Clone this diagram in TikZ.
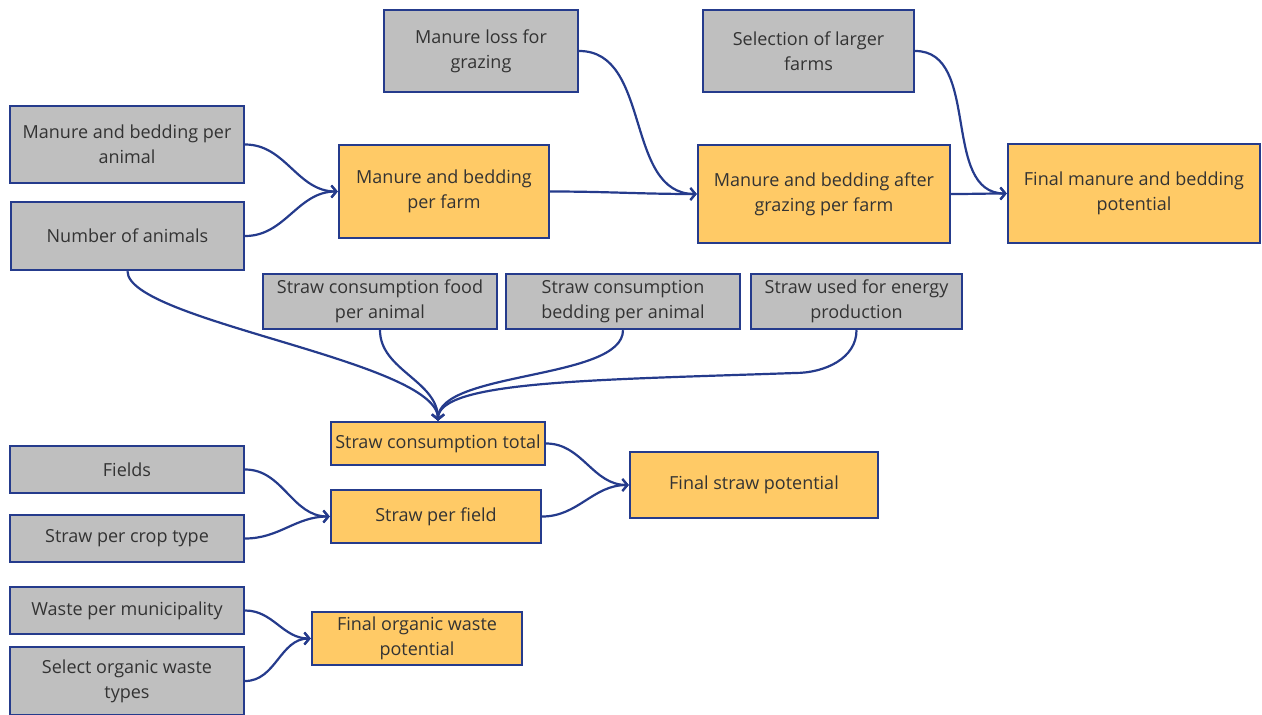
\documentclass[tikz,border=0pt]{standalone}
\usepackage{fontspec}
\setmainfont{Open Sans}
\usetikzlibrary{arrows.meta,calc}
\definecolor{gbox}{HTML}{BFBFBF}
\definecolor{obox}{HTML}{FFCA66}
\definecolor{navy}{HTML}{253B8C}
\definecolor{txt}{HTML}{333333}
\begin{document}
\begin{tikzpicture}[x=1pt,y=-1pt,
  basebox/.style={draw=navy,line width=2.4pt,rectangle,align=center,inner sep=1pt,
    text=txt,font=\fontsize{18}{25}\selectfont},
  gray box/.style={basebox,fill=gbox},
  orange box/.style={basebox,fill=obox},
  link/.style={draw=navy,line width=2.2pt,-{Straight Barb[length=5pt,width=12pt,line width=2.2pt]}}
]
\useasboundingbox (0,0) rectangle (1262,715);
\node[gray box,minimum width=234,minimum height=77] (mba) at (127,144.5) {Manure and bedding per\\animal};
\node[gray box,minimum width=233,minimum height=68] (noa) at (127.5,236) {Number of animals};
\node[orange box,minimum width=210,minimum height=93] (mbf) at (444,191.5) {Manure and bedding\\per farm};
\node[gray box,minimum width=194,minimum height=82] (mlg) at (481,51) {Manure loss for\\grazing};
\node[orange box,minimum width=252,minimum height=98] (mbg) at (824,194) {Manure and bedding after\\grazing per farm};
\node[gray box,minimum width=211,minimum height=82] (slf) at (808.5,51) {Selection of larger\\farms};
\node[orange box,minimum width=252,minimum height=99] (fmb) at (1134,193.5) {Final manure and bedding\\potential};
\node[gray box,minimum width=234,minimum height=55] (scf) at (380,301.5) {Straw consumption food\\per animal};
\node[gray box,minimum width=234,minimum height=55] (scb) at (623,301.5) {Straw consumption\\bedding per animal};
\node[gray box,minimum width=211,minimum height=55] (sue) at (856.5,301.5) {Straw used for energy\\production};
\node[orange box,minimum width=214,minimum height=43] (sct) at (438,443.5) {Straw consumption total};
\node[gray box,minimum width=234,minimum height=47] (fld) at (127,469.5) {Fields};
\node[gray box,minimum width=234,minimum height=47] (spc) at (127,538.5) {Straw per crop type};
\node[orange box,minimum width=210,minimum height=53] (spf) at (436,516.5) {Straw per field};
\node[orange box,minimum width=248,minimum height=66] (fsp) at (754,485) {Final straw potential};
\node[gray box,minimum width=234,minimum height=47] (wpm) at (127,610.5) {Waste per municipality};
\node[gray box,minimum width=234,minimum height=68] (sow) at (127,681) {Select organic waste\\types};
\node[orange box,minimum width=210,minimum height=53] (fow) at (417,638.5) {Final organic waste\\potential};
\coordinate (sueA) at (795,373);
% connectors
\draw[link] (mba.east) to[out=0,in=180] (mbf.west);
\draw[link] (noa.east) to[out=0,in=180] (mbf.west);
\draw[link] (mbf.east) to[out=0,in=180] (mbg.west);
\draw[link] (mlg.east) to[out=0,in=180] (mbg.west);
\draw[link] (mbg.east) to[out=0,in=180] (fmb.west);
\draw[link] (slf.east) to[out=0,in=180] (fmb.west);
\draw[link] (noa.south) .. controls +(0,50) and +(0,-60) .. (sct.north);
\draw[link] (scf.south) to[out=-90,in=90,out distance=40,in distance=40] (sct.north);
\draw[link] (scb.south) .. controls +(0,50) and +(0,-50) .. (sct.north);
\draw[link] (sue.south) to[out=-90,in=0,out distance=28,in distance=30] (sueA)
  to[out=182,in=90,out distance=200,in distance=40] (sct.north);
\draw[link] (sct.east) to[out=0,in=180] (fsp.west);
\draw[link] (spf.east) to[out=0,in=180] (fsp.west);
\draw[link] (fld.east) to[out=0,in=180] (spf.west);
\draw[link] (spc.east) to[out=0,in=180] (spf.west);
\draw[link] (wpm.east) to[out=0,in=180] (fow.west);
\draw[link] (sow.east) to[out=0,in=180] (fow.west);
\end{tikzpicture}
\end{document}
